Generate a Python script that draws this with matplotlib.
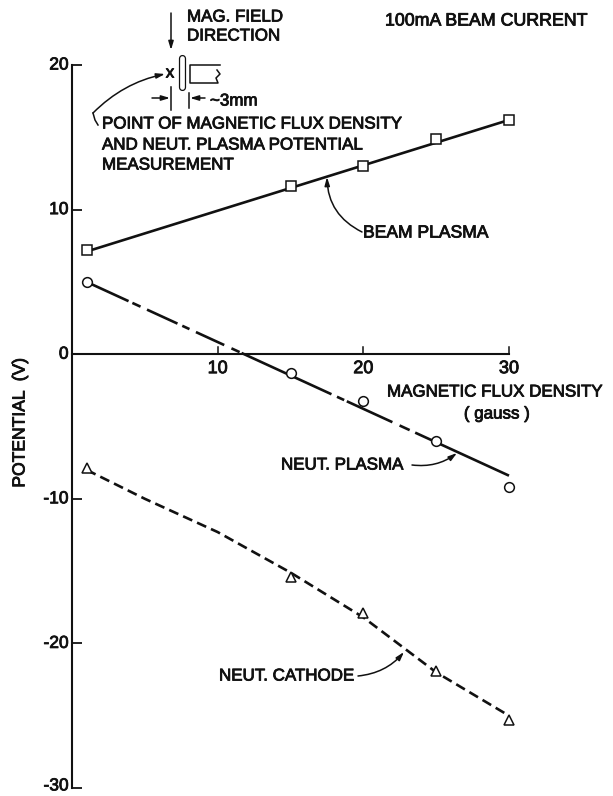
import matplotlib
matplotlib.use("Agg")
import matplotlib.pyplot as plt
import matplotlib.patheffects as pe

flux = [1, 15, 20, 25, 30]
beam_pts = [7.2, 11.6, 13.0, 14.9, 16.2]
plasma_pts = [5.0, -1.3, -3.25, -6.0, -9.2]
cath_pts = [-7.9, -15.4, -17.9, -21.9, -25.3]

beam_line_x = [1, 30]
beam_line = [7.1, 16.2]
plasma_line_x = [1, 30]
plasma_line = [5.0, -8.4]
cath_line_x = [1, 5, 10, 15, 20, 25, 30]
cath_line = [-8.0, -10.0, -12.3, -15.1, -18.2, -22.0, -25.0]

yticks = [20, 10, 0, -10, -20, -30]
ylabels = ['20', '10', '0', '-10', '-20', '-30']
xticks = [10, 20, 30]

plt.rcParams['font.family'] = ['Liberation Sans', 'DejaVu Sans']

W, H = 613, 796
INK = '#111111'
bold = [pe.withStroke(linewidth=0.6, foreground=INK)]

fig = plt.figure(figsize=(W/100, H/100), dpi=100)
# x: 0 at px 72, 30 at px 509 ; y: 20 at px 65, -30 at px 788
x0, x30 = 72, 509
ytop, ybot = 65, 788
ax = fig.add_axes([x0/W, 1-ybot/H, (W-x0)/W, (ybot-ytop)/H])
ax.set_xlim(0, 30*(W-x0)/(x30-x0))
ax.set_ylim(-30, 20)
ax.patch.set_alpha(0)

for s in ['top', 'right', 'bottom']:
    ax.spines[s].set_visible(False)
ax.spines['left'].set_linewidth(1.5)
ax.spines['left'].set_color(INK)

ax.plot([0, 30], [0, 0], color=INK, lw=1.5, clip_on=False)
for t in xticks:
    ax.plot([t, t], [0, 0.5], color=INK, lw=1.1)
ax.set_xticks([])
ax.set_yticks(yticks)
ax.set_yticklabels([])
ax.tick_params(axis='y', direction='in', length=7, width=1.3, color=INK)

# y labels as annotations, the bottom one sits a little higher to stay on the page
for v, s in zip(yticks, ylabels):
    ax.annotate(s, xy=(0, v), xytext=(-2.5, 1.5 if v == -30 else 0), textcoords='offset points',
                ha='right', va='center', fontsize=12.5, color=INK, path_effects=bold, annotation_clip=False)

for t in xticks:
    ax.text(t, -1.0, str(t), ha='center', va='center', fontsize=13, color=INK, path_effects=bold)

# uneven long dashes of the neut. plasma line, hand drawn in the original
plasma_dashes = (17.5, 1.6, 3.4, 2.7, 12.7, 2, 3, 2.7, 11.8, 3, 3.4, 0.8, 37.5, 2.3, 3, 1.1,
                 19, 3, 4.2, 2.3, 47, 4)

ax.plot(beam_line_x, beam_line, color=INK, lw=1.9, zorder=2)
ax.plot(flux, beam_pts, 's', mfc='white', mec=INK, mew=1.1, ms=7, zorder=3)
ax.plot(plasma_line_x, plasma_line, color=INK, lw=1.9, dashes=plasma_dashes, zorder=2)
ax.plot(flux, plasma_pts, 'o', mfc='white', mec=INK, mew=1.1, ms=7, zorder=3)
ax.plot(cath_line_x, cath_line, color=INK, lw=1.9, dashes=(3.8, 2.0), zorder=2)
ax.plot(flux, cath_pts, '^', mfc='white', mec=INK, mew=1.1, ms=7, zorder=3)


def label(px, py, s, **kw):
    fig.text(px/W, 1-py/H, s, fontsize=kw.pop('fontsize', 12.2), va='center', color=INK,
             path_effects=bold, **kw)


label(187, 17, 'MAG. FIELD')
label(187, 36, 'DIRECTION')
label(385, 21, '100mA BEAM CURRENT', fontsize=12.8)
label(102, 124, 'POINT OF MAGNETIC FLUX DENSITY')
label(102, 145, 'AND NEUT. PLASMA POTENTIAL')
label(102, 165, 'MEASUREMENT')
label(363, 233, 'BEAM PLASMA', fontsize=12.6)
label(387, 392, 'MAGNETIC FLUX DENSITY')
label(497, 414, '( gauss )', ha='center')
label(281, 465, 'NEUT. PLASMA')
label(219, 676, 'NEUT. CATHODE')
label(170, 73, 'x', ha='center')
label(210, 101, '~3mm')
label(20, 423, 'POTENTIAL  (V)', rotation=90, ha='center', fontsize=12.6)


def arrow(p0, p1, rad=0.0):
    ax.annotate('', xy=(p1[0]/W, 1-p1[1]/H), xytext=(p0[0]/W, 1-p0[1]/H),
                xycoords='figure fraction', textcoords='figure fraction',
                arrowprops=dict(arrowstyle='-|>,head_length=0.5,head_width=0.15', color=INK, lw=1.1,
                                connectionstyle=f'arc3,rad={rad}', shrinkA=0, shrinkB=0))


def stroke(xs, ys, lw=1.1, **kw):
    fig.add_artist(plt.Line2D([x/W for x in xs], [1-y/H for y in ys], color=INK, lw=lw, **kw))


arrow((171, 13), (171, 50))
arrow((93, 113), (165, 74), rad=-0.15)
stroke([98, 95, 93], [125, 120, 113])
arrow((362, 232), (327, 177), rad=-0.3)
arrow((412, 465), (457, 453), rad=0.2)
arrow((358, 676), (404, 652), rad=0.2)
arrow((152, 98), (170, 98))
arrow((205, 98), (190, 98))
stroke([171, 171], [87, 110])
stroke([189, 189], [93, 108])

# probe sketch
stroke([182.5, 182.5], [58, 87], lw=5.2, solid_capstyle='round')
stroke([182.5, 182.5], [58, 87], lw=3.4, solid_capstyle='round', zorder=3)
fig.artists[-1].set_color('white')
stroke([220, 190, 190, 218, 216, 220, 217], [65, 65, 83, 83, 78, 74, 70])

fig.savefig('out.png', dpi=100)
